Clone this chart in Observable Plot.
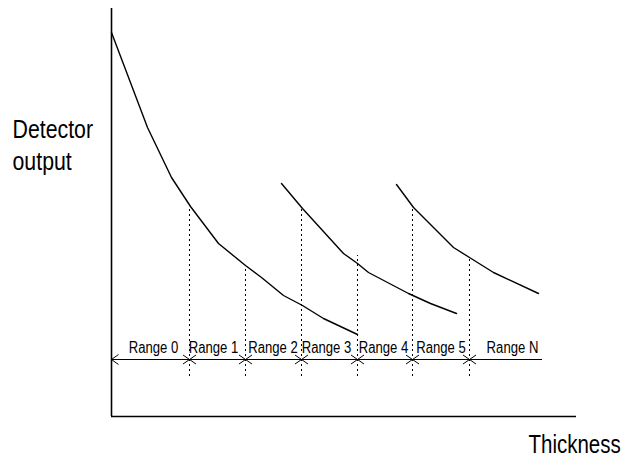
<!DOCTYPE html>
<html>
<head>
<meta charset="utf-8">
<script src="https://cdn.jsdelivr.net/npm/d3@7"></script>
<script src="https://cdn.jsdelivr.net/npm/@observablehq/plot@0.6"></script>
<style>
  html, body { margin: 0; padding: 0; background: #fff; }
  #chart svg { display: block; }
</style>
</head>
<body>
<div id="chart"></div>
<script>
// Schematic data (arbitrary units): thickness (x) vs detector output (y)
const curve0Thickness = [0, 36, 60, 79, 107, 134, 150, 172, 191, 212, 246];
const curve0Output    = [384, 289, 239, 210, 173, 151, 139, 121, 111, 98, 82];
const curve1Thickness = [170, 191, 232, 246, 257, 297, 319, 345];
const curve1Output    = [233, 208, 163, 153, 144, 123, 113, 103];
const curve2Thickness = [285, 302, 342, 358, 382, 427];
const curve2Output    = [232, 209, 169, 159, 144, 123];

const boundaries   = [78, 134, 190, 246, 301, 358];
const boundaryTops = [208, 151, 208, 161, 209, 159];
const boundaryBottom = 40;

const rangeLabels  = ["Range 0", "Range 1", "Range 2", "Range 3", "Range 4", "Range 5", "Range N"];
const rangeLabelX  = [42, 102, 161.5, 215, 272, 329.5, 401];
const rangeLabelY  = 64;

const rangeLineY   = 57;
const rangeLineEnd = 431;

const xMax = 465, yMax = 408;

const toRows = (xs, ys) => xs.map((x, i) => ({x, y: ys[i]}));
const curves = [toRows(curve0Thickness, curve0Output), toRows(curve1Thickness, curve1Output), toRows(curve2Thickness, curve2Output)];

const crossSymbol = {draw(ctx) { const w = 6.5, h = 4.5; ctx.moveTo(-w, -h); ctx.lineTo(w, h); ctx.moveTo(-w, h); ctx.lineTo(w, -h); }};
const leftArrow = {draw(ctx) { ctx.moveTo(7, -5); ctx.lineTo(0, 0); ctx.lineTo(7, 5); }};

const font = "'Liberation Sans', Arial, sans-serif";

const chart = Plot.plot({
  width: 622,
  height: 460,
  marginLeft: 111,
  marginRight: 46,
  marginTop: 8,
  marginBottom: 44,
  x: {domain: [0, xMax], axis: null},
  y: {domain: [0, yMax], axis: null},
  style: {fontFamily: font, background: "#fff", color: "#000"},
  marks: [
    // axes
    Plot.ruleX([0], {y1: 0, y2: yMax, stroke: "#000", strokeWidth: 1.6}),
    Plot.ruleY([0], {x1: 0, x2: xMax, stroke: "#000", strokeWidth: 1.6}),
    // dotted boundaries
    Plot.ruleX(boundaries, {x: d => d, y1: boundaryBottom, y2: (d, i) => boundaryTops[i], stroke: "#000", strokeWidth: 1, strokeDasharray: "2,3"}),
    // curves
    ...curves.map(c => Plot.line(c, {x: "x", y: "y", stroke: "#000", strokeWidth: 1.4})),
    // range line
    Plot.ruleY([rangeLineY], {x1: 0, x2: rangeLineEnd, stroke: "#000", strokeWidth: 1}),
    Plot.dot([0], {x: d => d, y: rangeLineY, symbol: leftArrow, r: 5, fill: "none", stroke: "#000", strokeWidth: 1}),
    Plot.dot(boundaries, {x: d => d, y: rangeLineY, symbol: crossSymbol, r: 5, fill: "none", stroke: "#000", strokeWidth: 1}),
    // range labels
    Plot.text(rangeLabels, {x: (d, i) => rangeLabelX[i], y: rangeLabelY, text: d => d, textAnchor: "middle", lineAnchor: "bottom", fontSize: 16, fill: "#000"}),
    // axis titles
    Plot.text(["Detector\noutput"], {frameAnchor: "top-left", dx: -99, dy: 107, text: d => d, textAnchor: "start", lineAnchor: "top", fontSize: 26, lineHeight: 1.23, fill: "#000"}),
    Plot.text(["Thickness"], {frameAnchor: "top-left", dx: 417, dy: 427, text: d => d, textAnchor: "start", lineAnchor: "top", fontSize: 25, fill: "#000"})
  ]
});
// condense the glyphs horizontally (narrow sans look), keeping each text's anchor fixed
d3.select(chart).selectAll("text").each(function() {
  const t = this.getAttribute("transform");
  if (t) {
    this.setAttribute("transform", t + " scale(0.82,1)");
  } else {
    const x = +(this.getAttribute("x") || 0), y = +(this.getAttribute("y") || 0);
    this.removeAttribute("x"); this.removeAttribute("y");
    this.setAttribute("transform", `translate(${x},${y}) scale(0.82,1)`);
  }
});
document.getElementById("chart").appendChild(chart);
</script>
</body>
</html>
